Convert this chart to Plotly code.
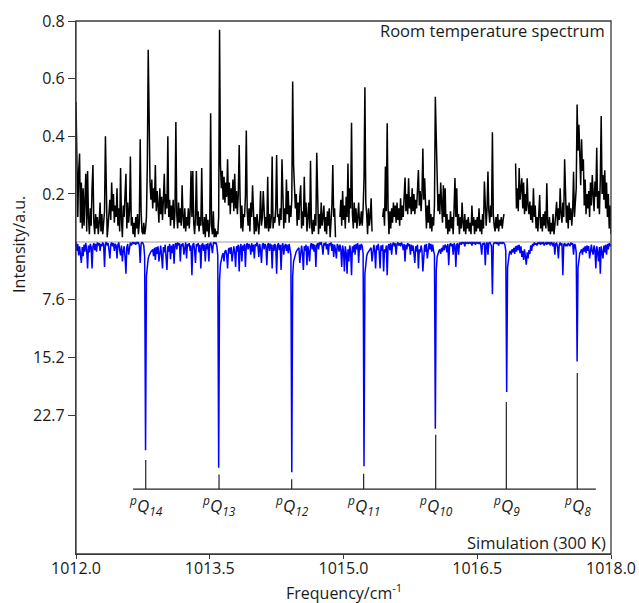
import numpy as np
import plotly.graph_objects as go

# ---------------- data ----------------
freq_start = 1012.0
freq_step = 0.01   # cm-1 sampling of both traces

# room-temperature spectrum (intensity, a.u.), one row = 0.1 cm-1; None = no data
room_temp_intensity = [
    0.52, 0.36, 0.12, 0.28, 0.34, 0.10, 0.24, 0.08, 0.22, 0.09,
    0.18, 0.27, 0.07, 0.28, 0.12, 0.06, 0.15, 0.09, 0.22, 0.30,
    0.10, 0.06, 0.13, 0.08, 0.12, 0.06, 0.10, 0.17, 0.07, 0.13,
    0.06, 0.11, 0.14, 0.40, 0.12, 0.05, 0.09, 0.13, 0.18, 0.11,
    0.24, 0.14, 0.20, 0.10, 0.16, 0.12, 0.22, 0.09, 0.15, 0.07,
    0.29, 0.11, 0.05, 0.16, 0.12, 0.20, 0.27, 0.08, 0.17, 0.10,
    0.14, 0.33, 0.09, 0.12, 0.06, 0.10, 0.05, 0.12, 0.08, 0.13,
    0.06, 0.10, 0.39, 0.14, 0.07, 0.06, 0.10, 0.06, 0.08, 0.12,
    0.30, 0.70, 0.35, 0.24, 0.18, 0.25, 0.15, 0.22, 0.17, 0.30,
    0.14, 0.21, 0.16, 0.10, 0.22, 0.13, 0.19, 0.11, 0.18, 0.27,
    0.13, 0.20, 0.15, 0.40, 0.12, 0.18, 0.09, 0.16, 0.11, 0.18,
    0.08, 0.14, 0.45, 0.13, 0.08, 0.17, 0.10, 0.15, 0.09, 0.23,
    0.12, 0.08, 0.15, 0.07, 0.12, 0.09, 0.15, 0.08, 0.14, 0.28,
    0.12, 0.28, 0.10, 0.06, 0.12, 0.28, 0.09, 0.14, 0.07, 0.12,
    0.09, 0.29, 0.10, 0.06, 0.12, 0.05, 0.13, 0.07, 0.11, 0.05,
    0.10, 0.48, 0.09, 0.06, 0.14, 0.05, 0.08, 0.05, 0.07, 0.06,
    0.12, 0.77, 0.30, 0.22, 0.28, 0.18, 0.26, 0.17, 0.24, 0.19,
    0.32, 0.16, 0.24, 0.13, 0.22, 0.17, 0.25, 0.14, 0.27, 0.15,
    0.21, 0.13, 0.20, 0.37, 0.19, 0.08, 0.16, 0.07, 0.13, 0.12,
    0.19, 0.42, 0.14, 0.09, 0.15, 0.07, 0.17, 0.12, 0.23, 0.10,
    0.06, 0.12, 0.07, 0.13, 0.08, 0.06, 0.11, 0.21, 0.09, 0.12,
    0.21, 0.10, 0.08, 0.12, 0.08, 0.26, 0.07, 0.13, 0.08, 0.12,
    0.33, 0.08, 0.12, 0.10, 0.15, 0.335, 0.12, 0.13, 0.09, 0.15,
    0.11, 0.32, 0.12, 0.08, 0.15, 0.10, 0.25, 0.13, 0.21, 0.10,
    0.16, 0.12, 0.18, 0.59, 0.30, 0.24, 0.15, 0.20, 0.09, 0.17,
    0.11, 0.19, 0.23, 0.08, 0.14, 0.09, 0.26, 0.12, 0.17, 0.07,
    0.12, 0.17, 0.08, 0.315, 0.10, 0.06, 0.11, 0.07, 0.13, 0.09,
    0.343, 0.10, 0.06, 0.13, 0.08, 0.17, 0.09, 0.12, 0.16, 0.07,
    0.12, 0.06, 0.14, 0.09, 0.15, 0.05, 0.10, 0.16, 0.30, 0.12,
    0.15, 0.05, None, None, None, None, 0.12, 0.18, 0.09, 0.21,
    0.11, 0.16, 0.08, 0.19, 0.12, 0.306, 0.10, 0.22, 0.15, 0.447,
    0.13, 0.08, 0.17, 0.10, 0.15, 0.08, 0.12, 0.17, 0.09, 0.10,
    0.14, 0.09, 0.15, 0.25, 0.57, 0.17, 0.13, 0.06, 0.15, 0.09,
    0.12, 0.185, 0.07, None, None, None, None, None, None, None,
    None, None, None, None, 0.12, 0.15, 0.09, 0.295, 0.14, 0.445,
    0.15, 0.06, 0.14, 0.08, 0.15, 0.10, 0.17, 0.12, 0.16, 0.10,
    0.17, 0.11, 0.15, 0.09, 0.185, 0.11, 0.16, 0.12, 0.19, 0.257,
    0.14, 0.20, 0.13, 0.254, 0.15, 0.19, 0.13, 0.22, 0.14, 0.20,
    0.13, 0.18, 0.15, 0.22, 0.283, 0.16, 0.21, 0.14, 0.20, 0.358,
    0.18, 0.254, 0.14, 0.08, 0.16, 0.10, 0.18, 0.08, 0.13, 0.07,
    0.12, 0.09, 0.16, 0.537, 0.40, 0.24, 0.14, 0.20, 0.13, 0.24,
    0.15, 0.10, 0.23, 0.12, 0.22, 0.08, 0.13, 0.06, 0.11, 0.07,
    0.14, 0.08, 0.12, 0.06, 0.15, 0.255, 0.12, 0.22, 0.09, 0.13,
    0.06, 0.12, 0.08, 0.17, 0.10, 0.07, 0.13, 0.06, 0.11, 0.08,
    0.12, 0.07, 0.10, 0.06, 0.16, 0.09, 0.12, 0.06, 0.11, 0.07,
    0.12, 0.08, 0.15, 0.07, 0.11, 0.06, 0.13, 0.08, 0.243, 0.12,
    0.09, 0.15, 0.278, 0.14, 0.10, 0.16, 0.12, 0.414, 0.13, 0.09,
    0.07, 0.12, 0.08, 0.13, 0.07, 0.11, 0.09, 0.12, 0.08, 0.11,
    0.13, None, None, None, None, None, None, None, None, None,
    None, None, None, 0.306, 0.15, 0.22, 0.14, 0.29, 0.18, 0.22,
    0.254, 0.15, 0.24, 0.13, 0.20, 0.14, 0.254, 0.16, 0.13, 0.174,
    0.11, 0.16, 0.10, 0.22, 0.12, 0.16, 0.08, 0.12, 0.07, 0.13,
    0.196, 0.08, 0.12, 0.07, 0.13, 0.09, 0.14, 0.08, 0.237, 0.10,
    0.07, 0.12, 0.06, 0.10, 0.07, 0.13, 0.06, 0.09, 0.12, 0.173,
    0.09, 0.15, 0.11, 0.22, 0.13, 0.10, 0.17, 0.12, 0.32, 0.14,
    0.10, 0.16, 0.08, 0.17, 0.11, 0.15, 0.09, 0.14, 0.277, 0.12,
    0.16, 0.22, 0.51, 0.35, 0.44, 0.30, 0.23, 0.39, 0.28, 0.32,
    0.16, 0.25, 0.13, 0.20, 0.15, 0.21, 0.12, 0.24, 0.16, 0.266,
    0.18, 0.14, 0.243, 0.19, 0.36, 0.15, 0.21, 0.13, 0.25, 0.47,
    0.20, 0.266, 0.18, 0.282, 0.15, 0.24, 0.12, 0.20, 0.08, 0.16,
    0.06,
]

# simulated spectrum at 300 K (plotted downward), same frequency grid
sim_intensity = [
    0.0, 1.2, 0.3, 1.8, 0.6, 2.2, 2.8, 0.7, 1.9, 0.4,
    1.3, 0.2, 1.1, 3.5, 0.5, 1.4, 0.3, 0.7, 3.5, 0.6,
    0.2, 1.1, 0.3, 1.3, 0.1, 0.5, 0.2, 1.2, 0.3, 0.6,
    0.1, 0.4, 3.3, 0.3, 0.0, 0.5, 0.2, 1.1, 2.2, 0.4,
    0.1, 0.6, 0.2, 1.2, 0.3, 0.5, 2.2, 0.4, 0.1, 1.1,
    1.8, 0.5, 2.6, 1.2, 0.6, 2.0, 4.2, 0.7, 0.3, 1.7,
    0.4, 0.1, 0.5, 0.2, 0.0, 0.3, 0.1, 0.4, 0.0, 0.2,
    0.1, 0.5, 2.8, 0.3, 0.0, 0.2, 0.5, 2.0, 27.3, 4.5,
    2.8, 2.2, 1.8, 1.5, 1.3, 1.2, 1.0, 1.9, 0.8, 2.4,
    0.7, 1.6, 0.6, 2.6, 1.0, 0.5, 1.9, 3.5, 0.7, 1.4,
    0.4, 1.8, 3.7, 0.6, 1.3, 0.3, 2.3, 0.5, 1.5, 0.3,
    2.9, 0.4, 0.2, 1.0, 0.1, 0.5, 0.2, 2.6, 0.3, 0.6,
    0.2, 1.7, 0.4, 0.1, 2.2, 0.3, 0.6, 0.2, 1.2, 0.5,
    4.4, 0.4, 0.2, 1.1, 2.8, 0.3, 0.6, 0.2, 1.4, 0.4,
    3.5, 0.5, 0.2, 1.2, 0.4, 2.6, 0.3, 1.0, 0.2, 2.6,
    0.4, 0.1, 0.6, 1.5, 0.2, 0.0, 0.3, 0.1, 0.6, 1.8,
    29.6, 5.0, 3.0, 2.2, 1.8, 1.5, 2.6, 1.3, 1.1, 1.7,
    3.5, 1.0, 0.8, 1.6, 0.7, 2.6, 0.9, 0.6, 1.4, 3.3,
    0.6, 1.3, 0.4, 3.9, 0.7, 0.3, 2.6, 0.5, 1.2, 0.3,
    3.3, 0.5, 0.2, 1.0, 0.3, 0.6, 1.7, 0.2, 1.3, 0.4,
    2.2, 0.3, 0.6, 0.1, 0.5, 2.0, 0.3, 1.1, 2.8, 0.4,
    0.2, 1.0, 0.3, 0.6, 3.1, 0.4, 0.2, 1.2, 0.3, 0.5,
    3.5, 0.4, 1.2, 0.3, 0.6, 4.2, 0.5, 0.2, 1.1, 0.4,
    3.7, 0.5, 0.2, 1.7, 0.6, 0.3, 1.2, 0.4, 1.5, 0.3,
    1.0, 1.8, 30.2, 4.5, 2.6, 2.0, 1.6, 1.3, 1.1, 1.0,
    0.8, 2.8, 0.9, 0.5, 1.5, 3.7, 0.6, 1.2, 0.4, 3.1,
    0.6, 1.3, 2.6, 0.5, 0.2, 1.0, 0.3, 1.3, 0.4, 3.3,
    0.5, 0.2, 1.0, 0.1, 0.4, 0.0, 0.6, 1.7, 0.2, 0.5,
    0.1, 1.0, 0.3, 1.7, 0.2, 0.5, 0.1, 1.2, 0.3, 2.0,
    0.4, 1.0, 2.2, 0.3, 0.6, 1.3, 0.4, 1.1, 3.3, 0.5,
    1.2, 3.9, 0.6, 1.5, 4.2, 1.0, 2.6, 0.5, 1.3, 4.4,
    0.6, 1.4, 0.4, 1.7, 0.3, 1.0, 0.2, 2.8, 0.4, 1.1,
    0.3, 0.6, 1.6, 29.4, 4.2, 2.5, 1.9, 1.5, 1.3, 1.1,
    1.0, 0.8, 2.6, 0.8, 0.4, 1.2, 3.5, 0.5, 1.1, 0.3,
    1.3, 3.5, 0.5, 1.2, 0.4, 3.9, 1.0, 1.4, 0.5, 4.4,
    0.6, 0.3, 1.1, 0.2, 1.7, 0.4, 0.1, 0.6, 0.2, 1.7,
    0.3, 0.1, 0.5, 0.2, 0.6, 0.1, 0.4, 1.1, 0.3, 2.6,
    0.4, 1.0, 0.2, 0.6, 0.3, 1.7, 0.4, 1.2, 0.5, 1.5,
    2.8, 0.6, 1.3, 0.4, 3.5, 1.0, 1.4, 0.5, 1.2, 3.9,
    1.0, 0.4, 1.3, 0.3, 2.2, 0.5, 0.2, 1.0, 0.3, 1.3,
    0.4, 1.2, 1.7, 24.5, 3.8, 2.0, 1.5, 1.2, 1.0, 1.6,
    0.8, 1.3, 0.5, 1.1, 0.4, 0.6, 1.4, 0.3, 3.1, 0.5,
    0.2, 0.6, 0.3, 1.7, 0.2, 0.5, 3.3, 0.4, 0.2, 1.7,
    0.3, 0.1, 0.4, 0.0, 0.2, 0.1, 0.6, 0.0, 0.2, 0.1,
    0.3, 0.0, 0.2, 0.1, 0.5, 0.0, 0.2, 0.1, 0.4, 0.0,
    0.2, 0.1, 0.3, 0.0, 0.5, 1.7, 0.2, 0.4, 0.1, 3.1,
    0.3, 0.1, 1.7, 0.2, 0.0, 0.3, 0.6, 6.9, 0.4, 0.1,
    0.2, 0.0, 0.3, 0.1, 0.5, 0.0, 0.2, 0.1, 0.3, 0.0,
    0.2, 0.4, 1.2, 19.7, 3.4, 2.0, 1.5, 1.2, 1.7, 1.0,
    1.4, 0.8, 1.6, 0.6, 1.3, 0.5, 1.1, 0.4, 1.5, 0.6,
    2.0, 1.2, 2.4, 1.0, 1.8, 3.0, 1.4, 2.2, 1.1, 1.6,
    0.5, 1.2, 0.3, 0.6, 0.1, 0.4, 0.2, 0.5, 0.1, 0.3,
    0.0, 0.4, 0.1, 0.3, 0.0, 0.5, 0.2, 0.1, 0.4, 0.0,
    0.3, 0.1, 0.5, 0.0, 0.2, 0.6, 0.1, 1.7, 0.3, 0.2,
    0.6, 2.2, 0.4, 0.1, 0.5, 0.2, 4.4, 0.4, 0.2, 0.6,
    0.3, 0.6, 0.2, 0.5, 0.6, 0.1, 0.4, 0.2, 1.7, 0.3,
    0.5, 1.4, 15.7, 3.4, 2.0, 1.5, 1.3, 1.0, 1.7, 0.8,
    1.3, 0.6, 1.5, 0.5, 1.2, 0.6, 2.2, 0.7, 0.4, 1.3,
    1.7, 0.5, 1.1, 3.5, 0.6, 1.3, 2.6, 0.7, 4.2, 0.6,
    1.2, 2.2, 0.5, 1.4, 0.4, 1.7, 0.3, 1.0, 0.2, 0.6,
    0.3,
]

# band assignment sticks
band_labels = ["14", "13", "12", "11", "10", "9", "8"]
band_freq = [1012.782, 1013.604, 1014.419, 1015.226, 1016.034, 1016.826, 1017.622]
band_stick_top = [28.6, 30.5, 31.1, 30.4, 25.3, 21.0, 17.2]
band_stick_base = 32.4
band_line_start = 1012.64
band_line_end = 1017.83

x_ticks = [1012.0, 1013.5, 1015.0, 1016.5, 1018.0]
upper_ticks = [0.2, 0.4, 0.6, 0.8]
lower_ticks = [7.6, 15.2, 22.7]

# ---------------- figure ----------------
freq = np.round(freq_start + freq_step * np.arange(len(room_temp_intensity)), 3)

FONT = "Open Sans"
AX = "#3a3a3a"

fig = go.Figure()
fig.add_trace(go.Scatter(x=freq, y=room_temp_intensity, mode="lines",
                         line=dict(color="black", width=1.5), connectgaps=False,
                         xaxis="x", yaxis="y"))
fig.add_trace(go.Scatter(x=freq, y=sim_intensity, mode="lines",
                         line=dict(color="#0000ff", width=1.5),
                         xaxis="x", yaxis="y2"))

# sticks
sx, sy = [], []
for f, t in zip(band_freq, band_stick_top):
    sx += [f, f, None]
    sy += [t, band_stick_base, None]
sx += [band_line_start, band_line_end]
sy += [band_stick_base, band_stick_base]
fig.add_trace(go.Scatter(x=sx, y=sy, mode="lines", line=dict(color="#222222", width=1.2),
                         xaxis="x", yaxis="y2"))

split = 0.586
common = dict(showline=True, linecolor=AX, linewidth=1.3, ticks="outside",
              tickcolor=AX, showgrid=False, zeroline=False, automargin=False,
              tickfont=dict(size=16))
fig.update_layout(
    width=639, height=603,
    margin=dict(l=76, r=28, t=21, b=49, autoexpand=False),
    plot_bgcolor="white", paper_bgcolor="white",
    showlegend=False, hovermode=False,
    font=dict(family=FONT, size=16, color="#1a1a1a"),
    xaxis=dict(range=[1012.0, 1018.0], tickvals=x_ticks, tickformat=".1f",
               ticklen=4, ticklabelstandoff=-4, anchor="y2", **common),
    yaxis=dict(domain=[split, 1], range=[0.0345, 0.8], tickvals=upper_ticks,
               ticktext=[f"{v:.1f}" for v in upper_ticks],
               ticklen=7, anchor="x", **common),
    yaxis2=dict(domain=[0, split], range=[40.9, 0], tickvals=lower_ticks,
                ticktext=[f"{v:.1f}" for v in lower_ticks],
                ticklen=7, anchor="x", **common),
)

fig.add_shape(type="rect", xref="paper", yref="paper", x0=0, x1=1, y0=0, y1=1,
              line=dict(color=AX, width=1.3))
fig.add_shape(type="line", xref="paper", yref="y2", x0=0, x1=1, y0=0, y1=0,
              line=dict(color=AX, width=1.3))

for lab, f in zip(band_labels, band_freq):
    fig.add_annotation(x=f, y=34.5, xref="x", yref="y2", showarrow=False,
                       text=f"<i><sup>p</sup>Q<sub>{lab}</sub></i>",
                       font=dict(size=17, family=FONT, color="#1a1a1a"),
                       xanchor="center", yanchor="middle")

fig.add_annotation(x=0.9925, y=0.983, xref="paper", yref="paper", showarrow=False,
                   text="Room temperature spectrum", xanchor="right", yanchor="middle",
                   font=dict(size=16.5))
fig.add_annotation(x=0.9935, y=0.0212, xref="paper", yref="paper", showarrow=False,
                   text="Simulation (300 K)", xanchor="right", yanchor="middle",
                   font=dict(size=16.5))
fig.add_annotation(x=0.5, y=-0.072, xref="paper", yref="paper", showarrow=False,
                   text="Frequency/cm<sup>-1</sup>", xanchor="center", yanchor="middle",
                   font=dict(size=16))
fig.add_annotation(x=-0.1065, y=0.58, xref="paper", yref="paper", showarrow=False,
                   text="Intensity/a.u.", textangle=-90, xanchor="center", yanchor="middle",
                   font=dict(size=16))

fig.write_html("out.html")
